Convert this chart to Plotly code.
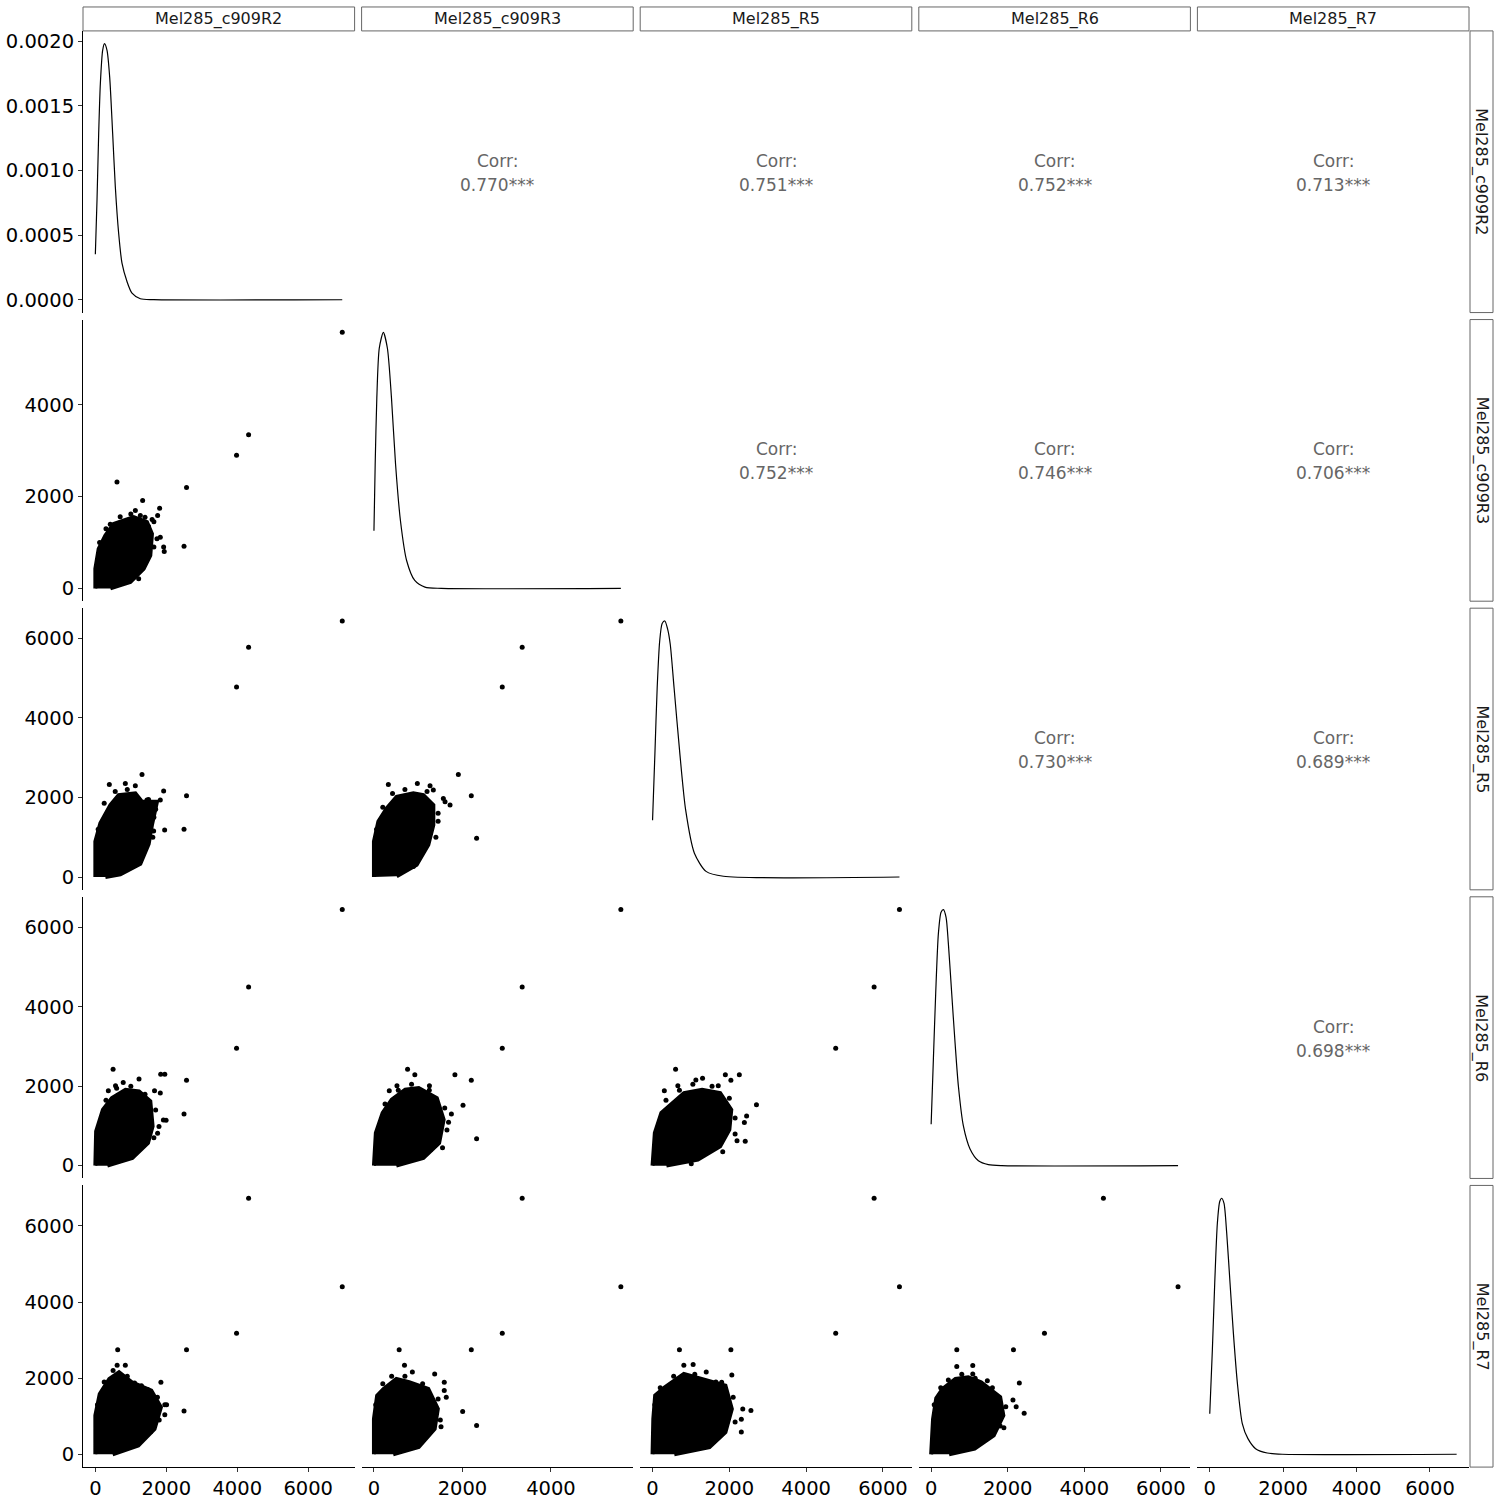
import plotly.graph_objects as go

# ---------------- data ----------------
VARS = ["Mel285_c909R2", "Mel285_c909R3", "Mel285_R5", "Mel285_R6", "Mel285_R7"]

# isolated genes (one value per sample), columns follow VARS
OUT_R2 = [6960, 4320, 3980, 2570, 2500, 610, 500, 630]
OUT_R3 = [5580, 3350, 2900, 2200, 920, 2320, 760, 570]
OUT_R5 = [6430, 5770, 4770, 2040, 1200, 975, 600, 700]
OUT_R6 = [6450, 4500, 2960, 2150, 1300, 675, 2430, 670]
OUT_R7 = [4400, 6727, 3180, 2748, 1140, 757, 1080, 2748]
OUT = [OUT_R2, OUT_R3, OUT_R5, OUT_R6, OUT_R7]
DATA_MIN = [0, 0, 0, 0, 0]

# dense point cloud outlines (x = column variable, y = row variable)
BLOB_21_X = [0, 0, 94, 282, 516, 798, 1080, 1455, 1596, 1549, 1361, 986, 423]
BLOB_21_Y = [0, 428, 863, 1152, 1406, 1478, 1552, 1443, 1189, 717, 428, 139, 0]
BLOB_31_X = [0, 0, 141, 423, 657, 1127, 1315, 1737, 1596, 1503, 1268, 704, 282]
BLOB_31_Y = [0, 892, 1350, 1808, 2058, 2100, 1892, 1892, 1308, 833, 333, 67, 0]
BLOB_32_X = [0, 0, 100, 287, 513, 890, 1116, 1342, 1342, 1229, 965, 513]
BLOB_32_Y = [0, 892, 1392, 1725, 2017, 2100, 2058, 1808, 1308, 808, 308, 17]
BLOB_41_X = [0, 22, 214, 468, 850, 1231, 1549, 1614, 1484, 1042, 338]
BLOB_41_Y = [0, 866, 1410, 1703, 1912, 1872, 1620, 992, 573, 196, 0]
BLOB_42_X = [0, 43, 197, 402, 707, 1012, 1421, 1575, 1473, 1116, 504]
BLOB_42_Y = [0, 824, 1327, 1661, 1912, 1955, 1703, 1158, 573, 196, 0]
BLOB_43_X = [0, 60, 230, 470, 820, 1290, 1760, 2050, 2000, 1760, 1180, 360]
BLOB_43_Y = [0, 824, 1327, 1535, 1829, 1912, 1829, 1410, 907, 490, 153, 0]
BLOB_51_X = [0, 0, 124, 394, 668, 1031, 1577, 1848, 1668, 1211, 487]
BLOB_51_Y = [0, 1019, 1585, 1978, 2153, 1892, 1674, 1237, 668, 233, 0]
BLOB_52_X = [0, 0, 72, 217, 506, 795, 1227, 1444, 1372, 1012, 434]
BLOB_52_Y = [0, 930, 1543, 1716, 1978, 1892, 1716, 1192, 668, 189, 0]
BLOB_53_X = [0, 20, 68, 318, 815, 1315, 1898, 2065, 1898, 1482, 565]
BLOB_53_Y = [0, 930, 1543, 1760, 2109, 1978, 1805, 1192, 582, 189, 0]
BLOB_54_X = [0, 50, 133, 300, 635, 969, 1304, 1803, 1886, 1635, 1136, 468]
BLOB_54_Y = [0, 930, 1473, 1716, 1978, 2022, 1892, 1500, 1019, 495, 146, 0]

# scattered points at the cloud fringe
FR_21_X = [1333, 1812, 1756, 1127, 1268, 1925, 1942, 1831, 1737, 1221, 1600, 1650,
           300, 420, 700, 1000, 1400, 1500, 1650, 120]
FR_21_Y = [1913, 1748, 1587, 1696, 1587, 900, 803, 1117, 1080, 211, 1500, 1450,
           1300, 1400, 1560, 1620, 1550, 1350, 900, 1000]
FR_31_X = [1315, 394, 845, 1127, 1455, 1831, 1925, 1953, 1643, 1700,
           250, 560, 900, 1500, 1650, 1620, 80]
FR_31_Y = [2575, 2325, 2350, 2292, 1933, 1933, 2158, 1183, 1158, 1700,
           1850, 2150, 2200, 1950, 1500, 1000, 1200]
FR_32_X = [325, 981, 1268, 1907, 1568, 1607, 1720, 1342, 890, 1450,
           200, 420, 700, 1200, 1450, 1400, 60]
FR_32_Y = [2325, 2350, 2292, 2575, 1975, 1892, 1808, 2183, 267, 1600,
           1750, 2100, 2200, 2150, 1400, 1000, 1200]
FR_41_X = [1842, 1958, 1231, 366, 569, 786, 1668, 1831, 1994, 1918, 1794, 1755,
           300, 600, 1000, 1400, 1700, 1650]
FR_41_Y = [2300, 2300, 2180, 1887, 2013, 2097, 1887, 1830, 1143, 1150, 984, 816,
           1650, 1950, 2000, 1800, 1400, 700]
FR_42_X = [1830, 924, 520, 346, 2013, 1686, 1433, 1281, 1254, 1750,
           250, 550, 850, 1250, 1600, 1650, 1550]
FR_42_Y = [2290, 2290, 2013, 1887, 1520, 1092, 858, 400, 2013, 1300,
           1550, 1900, 2050, 1900, 1450, 900, 450]
FR_43_X = [2706, 2414, 1896, 2260, 307, 659, 1128, 1302, 1711, 2391, 2450, 2200, 1828, 1008,
           350, 700, 1050, 1550, 2000, 2150, 2150]
FR_43_Y = [1535, 615, 2290, 2290, 1887, 2013, 2155, 2200, 2013, 1090, 1250, 630, 350, 50,
           1650, 1900, 2050, 2000, 1700, 1200, 800]
FR_51_X = [845, 614, 1848, 1958, 1958, 1107, 1474, 2008, 1558,
           250, 500, 900, 1300, 1750, 1800, 60]
FR_51_Y = [2337, 2337, 1892, 1300, 1037, 1874, 1700, 1300, 590,
           1900, 2200, 2050, 1800, 1500, 900, 1300]
FR_52_X = [690, 868, 1372, 1589, 1589, 1634, 2005, 1516,
           200, 400, 700, 1100, 1450, 1500, 40]
FR_52_Y = [2337, 2160, 2110, 1892, 1674, 1500, 1124, 720,
           1850, 2050, 2050, 1850, 1450, 900, 1300]
FR_53_X = [815, 1057, 1398, 2065, 1800, 2312, 2562, 2350, 2312,
           200, 550, 1100, 1650, 2100, 2150, 60]
FR_53_Y = [2337, 2360, 2160, 2080, 1892, 582, 1150, 1190, 920,
           1750, 2050, 2100, 1900, 1500, 850, 1300]
FR_54_X = [2304, 2221, 669, 1087, 1087, 1468, 2137, 1803,
           250, 450, 800, 1150, 1600, 1950, 1900, 80]
FR_54_Y = [1873, 1247, 2305, 2330, 2110, 1930, 1425, 740,
           1750, 1950, 2100, 2000, 1750, 1250, 700, 1300]

BLOBS = {(1, 0): (BLOB_21_X, BLOB_21_Y, FR_21_X, FR_21_Y),
         (2, 0): (BLOB_31_X, BLOB_31_Y, FR_31_X, FR_31_Y),
         (2, 1): (BLOB_32_X, BLOB_32_Y, FR_32_X, FR_32_Y),
         (3, 0): (BLOB_41_X, BLOB_41_Y, FR_41_X, FR_41_Y),
         (3, 1): (BLOB_42_X, BLOB_42_Y, FR_42_X, FR_42_Y),
         (3, 2): (BLOB_43_X, BLOB_43_Y, FR_43_X, FR_43_Y),
         (4, 0): (BLOB_51_X, BLOB_51_Y, FR_51_X, FR_51_Y),
         (4, 1): (BLOB_52_X, BLOB_52_Y, FR_52_X, FR_52_Y),
         (4, 2): (BLOB_53_X, BLOB_53_Y, FR_53_X, FR_53_Y),
         (4, 3): (BLOB_54_X, BLOB_54_Y, FR_54_X, FR_54_Y)}

# densities on the diagonal (R2 in density units, others relative to peak)
DENS_R2_X = [0, 47, 94, 141, 206, 258, 329, 404, 488, 563, 657, 751, 892, 1033, 1268, 1643, 6960]
DENS_R2_Y = [0.000352, 0.000771, 0.001286, 0.001671, 0.001928, 0.00198, 0.001928, 0.001722,
             0.001286, 0.000874, 0.000514, 0.000283, 0.000141, 0.000051, 0.000008, 0.000001, 0]
DENS_R3_X = [0, 28, 65, 120, 212, 304, 396, 489, 599, 738, 922, 1153, 1521, 5580]
DENS_R3_Y = [0.225, 0.484, 0.744, 0.938, 1.0, 0.938, 0.744, 0.484, 0.264, 0.109, 0.031, 0.005, 0, 0]
DENS_R5_X = [0, 61, 121, 185, 250, 320, 390, 460, 560, 712, 863, 1090, 1393, 1847, 6430]
DENS_R5_Y = [0.222, 0.48, 0.74, 0.92, 0.99, 1.0, 0.97, 0.91, 0.74, 0.48, 0.261, 0.093, 0.022,
             0.003, 0]
DENS_R6_X = [0, 58, 119, 189, 259, 320, 390, 450, 537, 625, 712, 842, 1016, 1234, 1495, 1843, 6450]
DENS_R6_Y = [0.162, 0.414, 0.673, 0.906, 0.99, 1.0, 0.97, 0.867, 0.673, 0.479, 0.31, 0.155,
             0.065, 0.019, 0.004, 0, 0]
DENS_R7_X = [0, 72, 136, 208, 272, 326, 389, 462, 552, 643, 751, 887, 1041, 1249, 1566, 1973, 6727]
DENS_R7_Y = [0.158, 0.41, 0.67, 0.903, 0.987, 1.0, 0.98, 0.864, 0.67, 0.475, 0.281, 0.12,
             0.061, 0.022, 0.005, 0, 0]
DENS = [(DENS_R2_X, DENS_R2_Y), (DENS_R3_X, DENS_R3_Y), (DENS_R5_X, DENS_R5_Y),
        (DENS_R6_X, DENS_R6_Y), (DENS_R7_X, DENS_R7_Y)]

CORR_PAIRS = [(0, 1), (0, 2), (0, 3), (0, 4), (1, 2), (1, 3), (1, 4), (2, 3), (2, 4), (3, 4)]
CORR_VALUES = [0.770, 0.751, 0.752, 0.713, 0.752, 0.746, 0.706, 0.730, 0.689, 0.698]

VAR_TICKS = [[0, 2000, 4000, 6000], [0, 2000, 4000], [0, 2000, 4000, 6000],
             [0, 2000, 4000, 6000], [0, 2000, 4000, 6000]]
DENS_TICKS = [0, 0.0005, 0.0010, 0.0015, 0.0020]
DENS_TICK_TEXT = ["0.0000", "0.0005", "0.0010", "0.0015", "0.0020"]

# ---------------- layout geometry (pixels) ----------------
W = H = 1500
COL_LEFT = [83, 361.6, 640.2, 918.8, 1197.4]
ROW_TOP = [30, 319.4, 608.8, 898.2, 1187.6]
PW, PH = 271.6, 282.4
FONT = "DejaVu Sans"
TICK_FONT = dict(family=FONT, size=19.5, color="black")

def rng(vals, lo=None):
    lo = min(vals) if lo is None else lo
    hi = max(vals)
    span = hi - lo
    return [lo - 0.05 * span, hi + 0.05 * span]

var_range = [rng(OUT[k], DATA_MIN[k]) for k in range(5)]

fig = go.Figure()
layout = {}
axis_style = dict(ticks="outside", ticklen=4, tickwidth=1, tickcolor="#333333",
                  tickfont=TICK_FONT, showline=True, linecolor="black", linewidth=1,
                  showticklabels=True)

for r in range(5):
    for c in range(5):
        idx = r * 5 + c + 1
        sfx = "" if idx == 1 else str(idx)
        xa, ya = "x" + sfx, "y" + sfx
        xdom = [COL_LEFT[c] / W, (COL_LEFT[c] + PW) / W]
        ydom = [1 - (ROW_TOP[r] + PH) / H, 1 - ROW_TOP[r] / H]
        xaxis = dict(domain=xdom, anchor=ya, range=var_range[c], showgrid=False,
                     zeroline=False, showticklabels=False, ticks="", showline=False)
        yaxis = dict(domain=ydom, anchor=xa, showgrid=False, zeroline=False,
                     showticklabels=False, ticks="", showline=False)
        if r == 4:
            xaxis.update(axis_style, tickvals=VAR_TICKS[c],
                         ticktext=[str(v) for v in VAR_TICKS[c]])
        if r == c:
            dx, dy = DENS[r]
            yaxis["range"] = rng(dy, 0)
            fig.add_trace(go.Scatter(x=dx, y=dy, mode="lines", xaxis=xa, yaxis=ya,
                                     line=dict(color="black", width=1.2, shape="spline",
                                               smoothing=0.7),
                                     hoverinfo="skip", showlegend=False))
            if c == 0:
                yaxis.update(axis_style, tickvals=DENS_TICKS, ticktext=DENS_TICK_TEXT)
        elif r > c:
            yaxis["range"] = var_range[r]
            bx, by, fx, fy = BLOBS[(r, c)]
            fig.add_trace(go.Scatter(x=bx, y=by, mode="lines", fill="toself",
                                     fillcolor="black", xaxis=xa, yaxis=ya,
                                     line=dict(color="black", width=4),
                                     hoverinfo="skip", showlegend=False))
            fig.add_trace(go.Scatter(x=fx, y=fy, mode="markers", xaxis=xa, yaxis=ya,
                                     marker=dict(color="black", size=5),
                                     hoverinfo="skip", showlegend=False))
            fig.add_trace(go.Scatter(x=OUT[c], y=OUT[r], mode="markers", xaxis=xa, yaxis=ya,
                                     marker=dict(color="black", size=5),
                                     hoverinfo="skip", showlegend=False))
            if c == 0:
                yaxis.update(axis_style, tickvals=VAR_TICKS[r],
                             ticktext=[str(v) for v in VAR_TICKS[r]])
        else:
            yaxis["range"] = [0, 1]
        layout["xaxis" + sfx] = xaxis
        layout["yaxis" + sfx] = yaxis

annotations = []
shapes = []
# correlation text
for (r, c), v in zip(CORR_PAIRS, CORR_VALUES):
    cx = (COL_LEFT[c] + PW / 2) / W
    cy = ROW_TOP[r] + PH / 2
    annotations.append(dict(x=cx, y=1 - (cy - 11) / H, xref="paper", yref="paper",
                            text="Corr:", showarrow=False, xanchor="center", yanchor="middle",
                            font=dict(family=FONT, size=17, color="#666666")))
    annotations.append(dict(x=cx, y=1 - (cy + 13) / H, xref="paper", yref="paper",
                            text=f"{v:.3f}***", showarrow=False, xanchor="center",
                            yanchor="middle", font=dict(family=FONT, size=17, color="#666666")))

# strips
for c in range(5):
    x0, x1 = COL_LEFT[c], COL_LEFT[c] + PW
    shapes.append(dict(type="rect", xref="paper", yref="paper", x0=x0 / W, x1=x1 / W,
                       y0=1 - 30 / H, y1=1 - 6 / H, line=dict(color="#666666", width=1),
                       fillcolor="white", layer="below"))
    annotations.append(dict(x=(x0 + x1) / 2 / W, y=1 - 18 / H, xref="paper", yref="paper",
                            text=VARS[c], showarrow=False, xanchor="center", yanchor="middle",
                            font=dict(family=FONT, size=16, color="#1a1a1a")))
for r in range(5):
    y0, y1 = ROW_TOP[r], ROW_TOP[r] + PH
    shapes.append(dict(type="rect", xref="paper", yref="paper", x0=1470 / W, x1=1493 / W,
                       y0=1 - y1 / H, y1=1 - y0 / H, line=dict(color="#666666", width=1),
                       fillcolor="white", layer="below"))
    annotations.append(dict(x=1481.5 / W, y=1 - (y0 + y1) / 2 / H, xref="paper", yref="paper",
                            text=VARS[r], showarrow=False, xanchor="center", yanchor="middle",
                            textangle=90,
                            font=dict(family=FONT, size=16, color="#1a1a1a")))

fig.update_layout(width=W, height=H, margin=dict(l=0, r=0, t=0, b=0),
                  paper_bgcolor="white", plot_bgcolor="white",
                  annotations=annotations, shapes=shapes, showlegend=False, **layout)

fig.write_html("out.html", config={"displayModeBar": False})
